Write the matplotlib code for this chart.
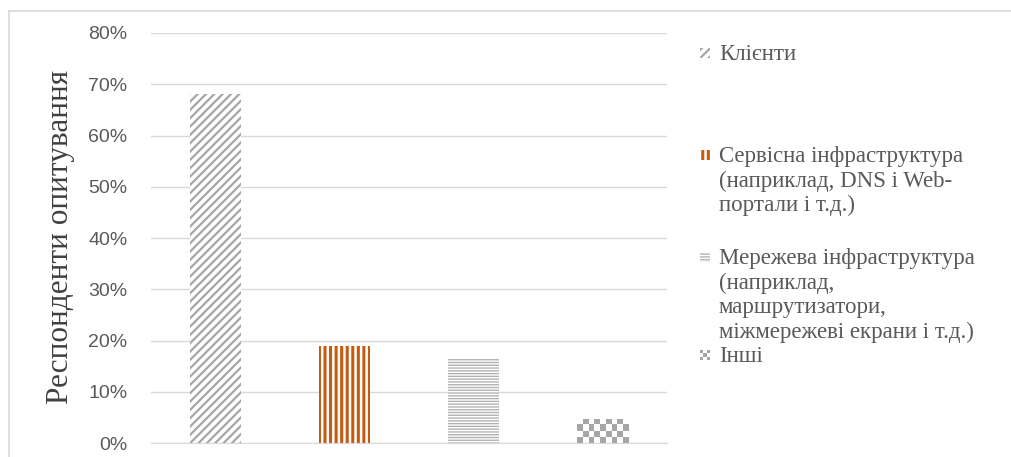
import numpy as np
import matplotlib.pyplot as plt
from matplotlib.patches import Rectangle
from matplotlib.colors import ListedColormap

# survey shares by asset type
categories = ['Клієнти',
              'Сервісна інфраструктура\n(наприклад, DNS і Web-\nпортали і т.д.)',
              'Мережева інфраструктура\n(наприклад,\nмаршрутизатори,\nміжмережеві екрани і т.д.)',
              'Інші']
shares = [0.68, 0.19, 0.165, 0.047]
y_ticks = [0.0, 0.1, 0.2, 0.3, 0.4, 0.5, 0.6, 0.7, 0.8]

gray = '#a6a6a6'
orange = '#c55a11'
text_gray = '#595959'
grid_gray = '#d9d9d9'

hatches = ['////', '|||', '------', None]
hatch_colors = [gray, orange, '#b4b4b4', gray]
hatch_widths = [1.6, 2.2, 1.0, 1.0]

fig = plt.figure(figsize=(10.11, 4.57), dpi=100)
ax = fig.add_axes([0.1494, 0.0306, 0.5104, 0.8972])

x = np.arange(len(categories))
bars = ax.bar(x, shares, width=0.40, color='white', linewidth=0)

for b, ht, hc, hw in zip(bars, hatches, hatch_colors, hatch_widths):
    if ht:
        b.set_hatch(ht)
        b.set_edgecolor(hc)
        b.set_hatch_linewidth(hw)

ax.set_xlim(-0.5, len(categories) - 0.5)
ax.set_ylim(0, 0.8)
ax.set_yticks(y_ticks)
ax.set_yticklabels(['{:.0f}%'.format(v * 100) for v in y_ticks],
                   fontsize=14, color=text_gray, family='Liberation Sans')
ax.set_xticks([])
ax.tick_params(axis='y', length=0, pad=17)
ax.grid(axis='y', color=grid_gray, linewidth=1)
ax.set_axisbelow(True)
for s in ['top', 'right', 'left']:
    ax.spines[s].set_visible(False)
ax.spines['bottom'].set_color(grid_gray)

# checkerboard fill for the last bar (no such hatch in matplotlib)
checker_cmap = ListedColormap([gray, 'white'])
fig.canvas.draw()
b = bars[3]
x0, x1 = b.get_x(), b.get_x() + b.get_width()
h = b.get_height()
p0 = ax.transData.transform((x0, 0))
p1 = ax.transData.transform((x1, h))
nx = max(1, int(round((p1[0] - p0[0]) / 6.0)))
ny = max(1, int(round((p1[1] - p0[1]) / 6.0)))
checker = (np.add.outer(np.arange(ny), np.arange(nx)) % 2).astype(float)
img = ax.imshow(checker, extent=(x0, x1, 0, h), cmap=checker_cmap, vmin=0, vmax=1,
                aspect='auto', interpolation='nearest', origin='lower', zorder=2)
img.set_clip_path(b)

# outer chart frame
fig.add_artist(plt.Line2D([9 / 1011, 1], [1 - 11 / 457] * 2, color=grid_gray, lw=1.2))
fig.add_artist(plt.Line2D([9 / 1011] * 2, [0, 1 - 11 / 457], color=grid_gray, lw=1.2))

fig.text(61 / 1011, 0.481, 'Респонденти опитування', rotation=90, ha='center', va='center',
         fontsize=22.5, family='Liberation Serif', color='#404040')

# legend entries
legend_y = [53, 155, 257, 355]
for i, (label, ly) in enumerate(zip(categories, legend_y)):
    fig.text(719 / 1011, 1 - (ly - 9) / 457, label, ha='left', va='top',
             fontsize=16.5, family='Liberation Serif', color=text_gray,
             linespacing=1.21)
    mx, my = 700 / 1011, 1 - (ly + 5) / 457
    mw, mh = 10 / 1011, 10 / 457
    if hatches[i]:
        m = Rectangle((mx, my), mw, mh, transform=fig.transFigure,
                      facecolor='white', edgecolor=hatch_colors[i], hatch=hatches[i], lw=0)
        m.set_hatch_linewidth(hatch_widths[i])
        fig.add_artist(m)
    else:
        for r in range(3):
            for c in range(3):
                fig.add_artist(Rectangle((mx + c * mw / 3, my + r * mh / 3), mw / 3, mh / 3,
                                         transform=fig.transFigure, lw=0,
                                         facecolor=gray if (r + c) % 2 == 0 else 'white'))

fig.savefig('out.png', dpi=100)
